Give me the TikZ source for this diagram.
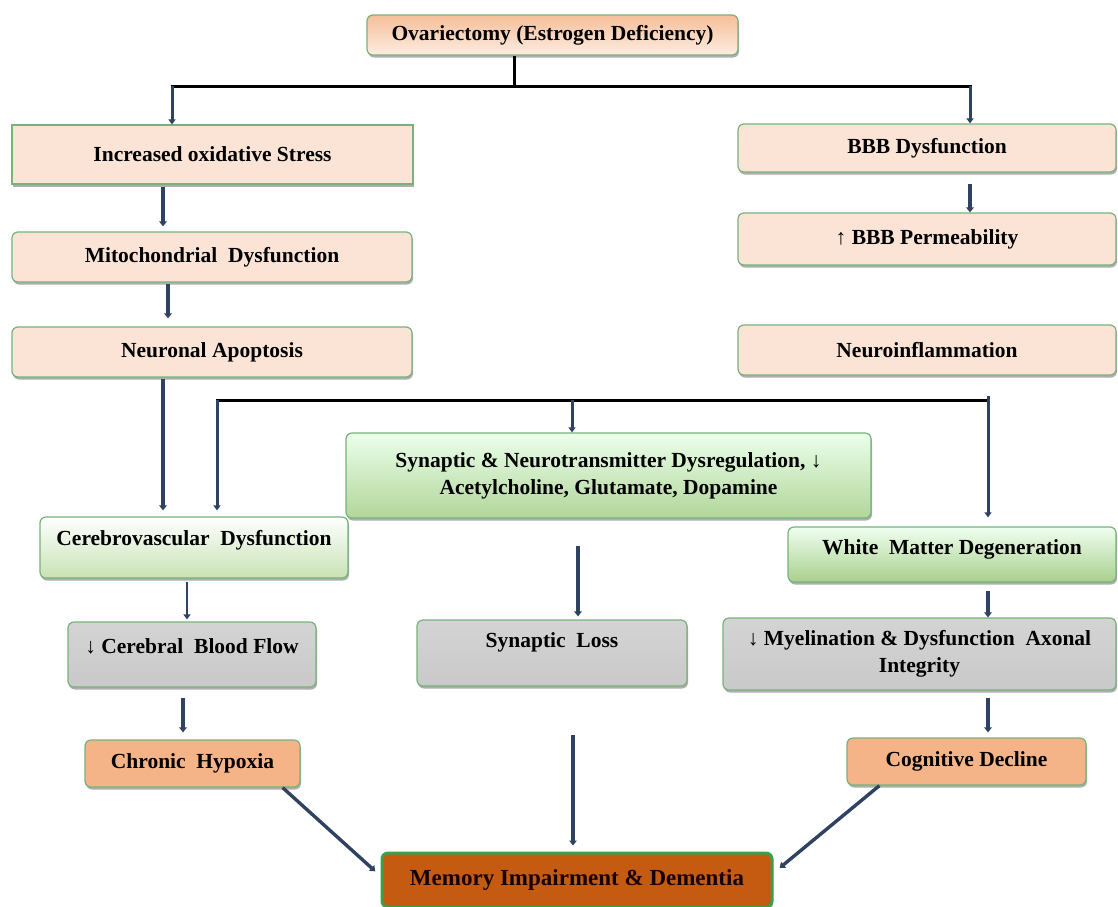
\documentclass[tikz,border=0pt]{standalone}
\usepackage{fontspec}
\setmainfont{Liberation Serif}
\usetikzlibrary{shadows,arrows.meta,calc}
\definecolor{bordergreen}{HTML}{76B37A}
\definecolor{peach}{HTML}{FBE4D5}
\definecolor{graybox}{HTML}{C9C9C9}
\definecolor{orangebox}{HTML}{F4B487}
\definecolor{memfill}{HTML}{C55A11}
\definecolor{memborder}{HTML}{38A14A}
\definecolor{navy}{HTML}{2F4262}
\definecolor{greenA}{RGB}{178,214,154}
\definecolor{greenB}{RGB}{200,226,180}
\definecolor{greenC}{RGB}{168,208,141}
\tikzset{
  box/.style={rectangle, rounded corners=6pt, draw=bordergreen, line width=1.2pt,
    inner sep=2pt, align=center, font=\fontsize{21.5}{27}\selectfont\bfseries,
    drop shadow={shadow xshift=1pt, shadow yshift=-2.5pt, opacity=0.45, fill=black!70}},
  peachbox/.style={box, fill=peach},
  graybx/.style={box, top color=graybox!80, bottom color=graybox},
  orbox/.style={box, fill=orangebox},
  arr/.style={draw=navy, line width=3.4pt, -{Triangle[length=5pt,width=7.5pt]}},
  thinarr/.style={draw=navy, line width=3pt, -{Triangle[length=5pt,width=7pt]}},
  tree/.style={draw=black, line width=3pt},
  raise/.style={text height=15pt, text depth={#1}},
}
\begin{document}
\begin{tikzpicture}[x=1pt,y=-1pt]
\useasboundingbox[fill=white] (0,0) rectangle (1118,906);

% boxes
\node[box, top color=orangebox!85, bottom color=peach!70, minimum width=371, minimum height=40] (ov) at (552.5,35) {Ovariectomy (Estrogen Deficiency)};
\node[peachbox, rounded corners=0pt, minimum width=401, minimum height=59] (ios) at (212.5,154.5) {Increased oxidative Stress};
\node[peachbox, minimum width=378, minimum height=48] (bbb) at (927,148) {BBB Dysfunction};
\node[peachbox, minimum width=400, minimum height=50] (mito) at (212,257) {Mitochondrial\ \ Dysfunction};
\node[peachbox, minimum width=400, minimum height=50] (na) at (212,352) {Neuronal Apoptosis};
\node[peachbox, minimum width=378, minimum height=52] (perm) at (927,239) {↑ BBB Permeability};
\node[peachbox, minimum width=378, minimum height=50] (ni) at (927,350) {Neuroinflammation};

\node[box, top color=green!8!white, bottom color=greenA, minimum width=525, minimum height=85] (syn) at (608.5,475.5) {Synaptic \& Neurotransmitter Dysregulation, ↓\\Acetylcholine, Glutamate, Dopamine};
\node[box, top color=white, bottom color=greenB, minimum width=308, minimum height=61, raise=19pt] (cvd) at (194,547.5) {Cerebrovascular\ \ Dysfunction};
\node[box, top color=green!6!white, bottom color=greenC, minimum width=328, minimum height=55, raise=15pt] (wm) at (952,554.5) {White\ \ Matter Degeneration};

\node[graybx, minimum width=248, minimum height=65, raise=18pt] (cbf) at (192,654.5) {↓ Cerebral\ \ Blood Flow};
\node[graybx, minimum width=270, minimum height=66, raise=27pt] (sl) at (552,653) {Synaptic\ \ Loss};
\node[graybx, minimum width=393, minimum height=72] (my) at (919.5,654) {↓ Myelination \& Dysfunction\ \ Axonal\\Integrity};

\node[orbox, minimum width=215, minimum height=47] (ch) at (192.5,763.5) {Chronic\ \ Hypoxia};
\node[orbox, minimum width=239, minimum height=47] (cd) at (966.5,761.5) {Cognitive Decline};
\node[box, fill=memfill, draw=memborder, line width=3pt, text=black!90!red, font=\fontsize{23}{27}\selectfont\bfseries, minimum width=390, minimum height=54] (mem) at (577,880) {Memory Impairment \& Dementia};

% column coordinates
\coordinate (c163) at (163,0);
\coordinate (c168) at (168,0);
\coordinate (c970) at (970,0);
\coordinate (c187) at (187,0);
\coordinate (c183) at (183,0);
\coordinate (c578) at (578,0);
\coordinate (c573) at (573,0);
\coordinate (c988) at (988,0);

% top tree
\coordinate (ovdrop) at (514,86);
\coordinate (hl) at (172,86);
\coordinate (hr) at (970,86);
\draw[tree] (ov.south -| ovdrop) -- (ovdrop);
\draw[tree] ([xshift=-1.5pt]hl) -- ([xshift=1.5pt]hr);
\draw[thinarr] (hl) -- (ios.north -| hl);
\draw[thinarr] (hr) -- (bbb.north -| hr);

% left chain
\draw[arr, shorten <=2pt, shorten >=5pt] (ios.south -| c163) -- (mito.north -| c163);
\draw[arr, shorten <=1pt, shorten >=8pt] (mito.south -| c168) -- (na.north -| c168);
\draw[arr, shorten <=1pt, shorten >=6pt] (na.south -| c163) -- (cvd.north -| c163);
\draw[arr, shorten <=11pt] (bbb.south -| c970) -- (perm.north -| c970);

% second tree
\coordinate (l2) at (217,400);
\coordinate (m2) at (572,400);
\coordinate (r2) at (988,400);
\draw[tree] ([xshift=-1.5pt]l2) -- ([xshift=1.5pt]r2);
\draw[thinarr, shorten >=6pt] (l2) -- (cvd.north -| l2);
\draw[thinarr] (m2) -- (syn.north -| m2);
\draw[thinarr, shorten >=9pt] ([yshift=4pt]r2) -- (wm.north -| r2);

% middle arrows
\draw[thinarr, line width=2.6pt, shorten <=3pt, shorten >=2pt] (cvd.south -| c187) -- (cbf.north -| c187);
\draw[arr, shorten <=27pt, shorten >=3pt] (syn.south -| c578) -- (sl.north -| c578);
\draw[arr, shorten <=8pt] (wm.south -| c988) -- (my.north -| c988);
\draw[arr, shorten <=10pt, shorten >=7pt] (cbf.south -| c183) -- (ch.north -| c183);
\draw[arr, shorten <=48pt, shorten >=6pt] (sl.south -| c573) -- (mem.north -| c573);
\draw[arr, shorten <=7pt, shorten >=5pt] (my.south -| c988) -- (cd.north -| c988);

% diagonals
\draw[arr, shorten >=7pt] ([xshift=-18pt]ch.south east) -- ([yshift=4pt]mem.west);
\draw[arr, shorten >=8pt] ([xshift=33pt]cd.south west) -- ([yshift=7pt]mem.east);
\end{tikzpicture}
\end{document}
